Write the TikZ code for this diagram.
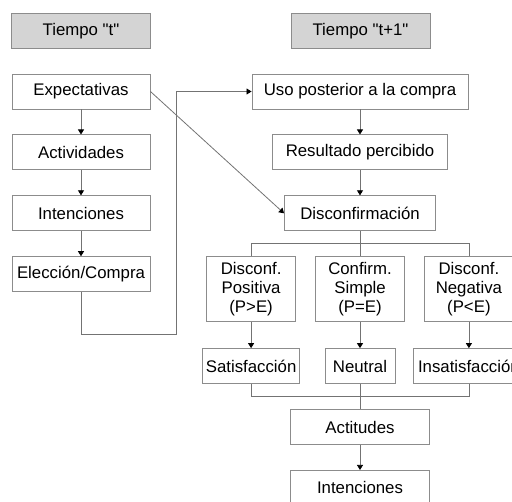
\documentclass[tikz,border=0pt]{standalone}
\usepackage{fontspec}
\setmainfont{Liberation Sans}
\usepackage{tikz}
\usetikzlibrary{
    positioning,
    arrows.meta,
    calc
}
\usepackage{xcolor}

\begin{document}
\begin{tikzpicture}[
    x=1pt, y=-1pt,
    node distance=25pt,
    box/.style={
        rectangle,
        draw=black!45,
        line width=0.9pt,
        minimum height=35pt,
        inner sep=2pt,
        align=center,
        font=\fontsize{16.8}{19}\selectfont
    },
    headbox/.style={box, fill=black!17, minimum width=139pt},
    colbox/.style={box, minimum width=138pt},
    branch/.style={box, minimum width=89pt, minimum height=65pt},
    arrow/.style={-{Triangle[length=5pt,width=6pt,color=black]}, line width=0.8pt, color=black!55},
    link/.style={line width=0.8pt, color=black!55}
]

\useasboundingbox (0,0) rectangle (512,502);
\clip (0,0) rectangle (512,502);

% Headers
\node[headbox] (tiempo) at (81,31) {Tiempo \textquotedbl t\textquotedbl};
\node[headbox] (tiempouno) at (360.5,31) {Tiempo \textquotedbl t+1\textquotedbl};

% Left column
\node[colbox] (expect) at (81,91.5) {Expectativas};
\node[colbox, below=of expect] (activ) {Actividades};
\node[colbox, below=of activ] (intenc) {Intenciones};
\node[colbox, below=of intenc] (eleccion) {Elección/Compra};

% Right column
\node[box, minimum width=216pt] (uso) at (360,91.5) {Uso posterior a la compra};
\node[box, minimum width=175pt, below=of uso] (result) {Resultado percibido};
\node[box, minimum width=151pt, below=of result] (disconf) {Disconfirmación};

% Three outcomes
\node[branch, below=of disconf] (simple) {Confirm.\\Simple\\(P=E)};
\node[branch, left=19pt of simple] (positiva) {Disconf.\\Positiva\\(P>E)};
\node[branch, right=19pt of simple] (negativa) {Disconf.\\Negativa\\(P<E)};

\node[box, minimum width=97pt, below=26pt of positiva] (satisf) {Satisfacción};
\node[box, minimum width=70pt, below=26pt of simple] (neutral) {Neutral};
\node[box, minimum width=110pt, below=26pt of negativa] (insatisf) {Insatisfacción};

\node[box, minimum width=139pt, below=of neutral] (actitud) {Actitudes};
\node[box, minimum width=139pt, below=of actitud] (intencion) {Intenciones};

% Loop back point
\coordinate (loopbot) at (176,334);

% Arrows, left column
\draw[arrow] (expect) -- (activ);
\draw[arrow] (activ) -- (intenc);
\draw[arrow] (intenc) -- (eleccion);
\draw[arrow] (eleccion.south) |- (loopbot) |- (uso.west);
\draw[arrow] (expect.east) -- (disconf.west);

% Arrows, right column
\draw[arrow] (uso) -- (result);
\draw[arrow] (result) -- (disconf);
\draw[link] (disconf) -- (simple);
\draw[link] (positiva.north) |- ($(disconf.south)!0.5!(simple.north)$) -| (negativa.north);

\draw[arrow] (positiva) -- (satisf);
\draw[arrow] (simple) -- (neutral);
\draw[arrow] (negativa) -- (insatisf);

\draw[link] (neutral) -- (actitud);
\draw[link] (satisf.south) |- ($(neutral.south)!0.5!(actitud.north)$) -| (insatisf.south);
\draw[arrow] (actitud) -- (intencion);

\end{tikzpicture}
\end{document}
